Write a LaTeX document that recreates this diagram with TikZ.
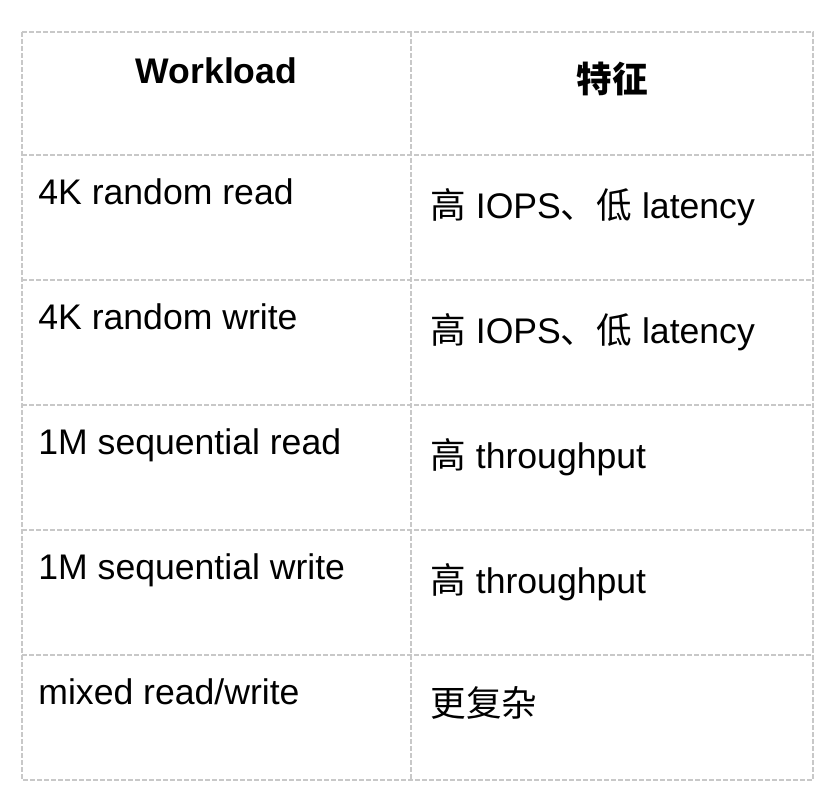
\documentclass[tikz,border=0pt]{standalone}
\usepackage{fontspec}
\setmainfont{Liberation Sans}
\newfontfamily\cjk{Noto Sans CJK SC}
\usetikzlibrary{math}

\definecolor{gridgray}{RGB}{200,200,200}

\begin{document}
\begin{tikzpicture}[x=0.5pt,y=-0.5pt,
  gridline/.style={draw=gridgray, line width=0.75pt, dash pattern=on 2.5pt off 1pt},
  celltext/.style={anchor=base west, inner sep=0pt, font=\fontsize{17.8}{20}\selectfont},
  headtext/.style={anchor=base, inner sep=0pt, font=\fontsize{17.8}{20}\selectfont\bfseries}]

  \tikzmath{
    \xl   = 22;   % left border
    \xc   = 411;  % column divider
    \xr   = 813;  % right border
    \yt   = 32;   % top border
    \yb   = 780;  % bottom border
    \padl = 16;   % text offset, left column
    \padr = 19;   % text offset, right column
  }

  \useasboundingbox (0,0) rectangle (834,804);

  % table grid
  \draw[gridline] (\xl,\yt) rectangle (\xr,\yb);
  \draw[gridline] (\xc,\yt) -- (\xc,\yb);
  \foreach \y in {155,280,405,530,655}
    \draw[gridline] (\xl,\y) -- (\xr,\y);

  % header row
  \node[headtext] (head-wl) at ({(\xl+\xc)/2}, 83) {Workload};
  \node[headtext] (head-tz) at ({(\xc+\xr)/2}, 92) {\cjk 特征};

  % workloads
  \node[celltext] (wl-1) at (\xl+\padl, 204) {4K random read};
  \node[celltext] (wl-2) at (\xl+\padl, 329) {4K random write};
  \node[celltext] (wl-3) at (\xl+\padl, 454) {1M sequential read};
  \node[celltext] (wl-4) at (\xl+\padl, 579) {1M sequential write};
  \node[celltext] (wl-5) at (\xl+\padl, 704) {mixed read/write};

  % features
  \node[celltext] (tz-1) at (\xc+\padr, 218) {{\cjk 高} IOPS{\cjk 、低} latency};
  \node[celltext] (tz-2) at (\xc+\padr, 343) {{\cjk 高} IOPS{\cjk 、低} latency};
  \node[celltext] (tz-3) at (\xc+\padr, 468) {{\cjk 高} throughput};
  \node[celltext] (tz-4) at (\xc+\padr, 593) {{\cjk 高} throughput};
  \node[celltext] (tz-5) at (\xc+\padr, 716) {\cjk 更复杂};

\end{tikzpicture}
\end{document}
